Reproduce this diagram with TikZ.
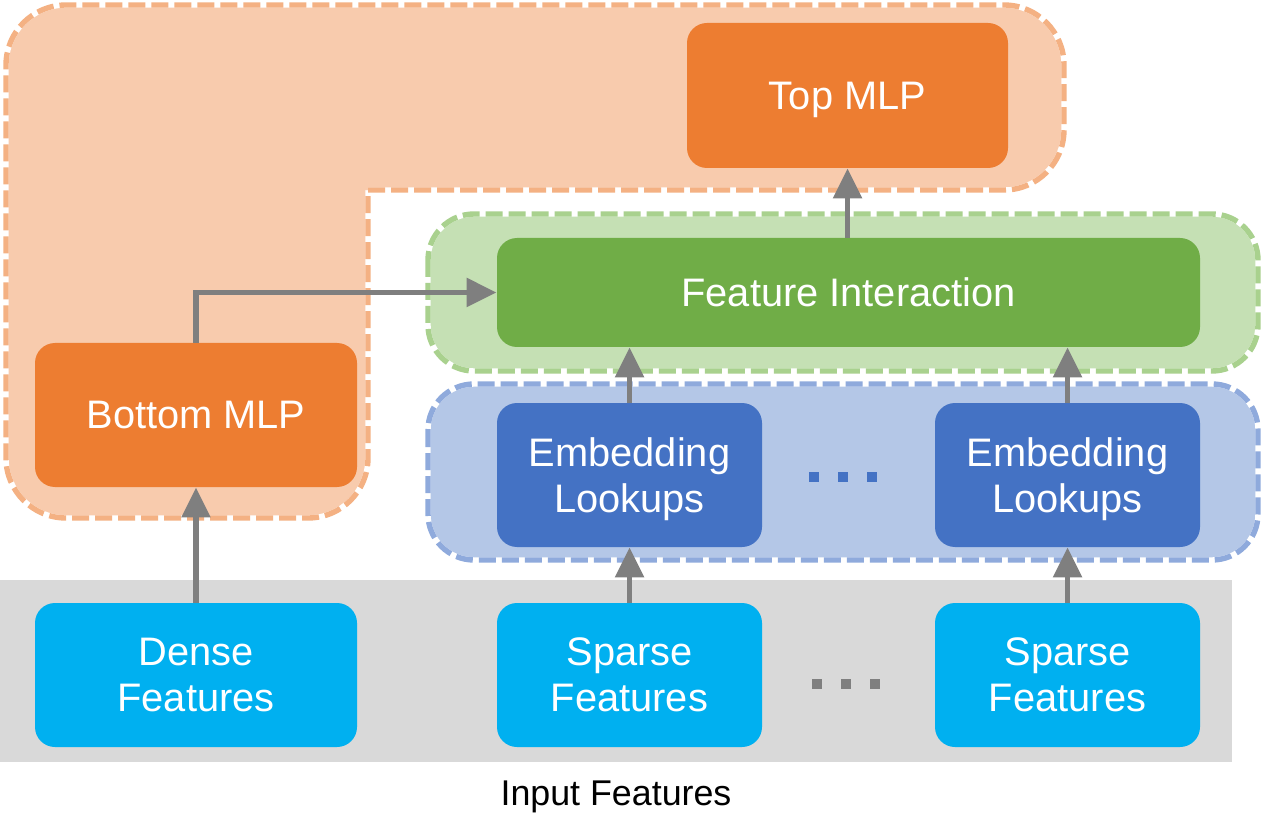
\documentclass[tikz,border=0pt]{standalone}
\usepackage{fontspec}
\setmainfont{Liberation Sans}
\usetikzlibrary{arrows.meta, positioning, calc}
\definecolor{mlporange}{RGB}{237, 125, 49}
\definecolor{orangefill}{RGB}{248, 203, 173}
\definecolor{orangeedge}{RGB}{244, 177, 131}
\definecolor{interactgreen}{RGB}{112, 173, 71}
\definecolor{greenfill}{RGB}{197, 224, 180}
\definecolor{greenedge}{RGB}{169, 209, 142}
\definecolor{lookupblue}{RGB}{68, 114, 196}
\definecolor{bluefill}{RGB}{180, 199, 231}
\definecolor{blueedge}{RGB}{143, 170, 220}
\definecolor{featurecyan}{RGB}{0, 176, 240}
\definecolor{inputgray}{RGB}{217, 217, 217}
\definecolor{arrowgray}{RGB}{127, 127, 127}
\begin{document}
\begin{tikzpicture}[
        x=0.5pt, y=-0.5pt,
        box/.style={rectangle, rounded corners=10pt, text=white, align=center,
            font=\fontsize{19.9}{23}\selectfont, inner sep=0pt, text depth=0pt},
        region/.style={line width=2.7pt, draw=white,
            postaction={draw, #1, dash pattern=on 8.5pt off 3pt}},
        arrow/.style={-{Triangle[length=15pt, width=14pt]}, line width=2.8pt, draw=arrowgray}
    ]
        \useasboundingbox (0,0) rectangle (1264,834);

        % groups behind the blocks
        \fill[inputgray] (0,580) rectangle (1232,762);
        \path[region=orangeedge, fill=orangefill]
            (368,190) [rounded corners=30pt] -- (1064,190) -- (1064,5) -- (6,5)
            -- (6,518) -- (368,518) -- (368,190);
        \path[region=greenedge, fill=greenfill, rounded corners=23pt]
            (428,214) rectangle (1258,371);
        \path[region=blueedge, fill=bluefill, rounded corners=23pt]
            (428,384) rectangle (1258,560);

        % blocks
        \node[box, fill=mlporange, minimum width=160.5pt, minimum height=72.5pt] (top) at (847.5,95.5) {Top MLP};
        \node[box, fill=interactgreen, minimum width=351.5pt, minimum height=54.5pt] (fi) at (848.5,292.5) {Feature Interaction};
        \node[box, fill=mlporange, minimum width=161pt, minimum height=72pt] (bot) at (196,415) {Bottom MLP};
        \node[box, fill=lookupblue, minimum width=132.5pt, minimum height=72pt] (emb1) at (629.5,475) {Embedding\\Lookups};
        \node[box, fill=lookupblue, minimum width=132.5pt, minimum height=72pt] (emb2) at (1067.5,475) {Embedding\\Lookups};
        \node[box, fill=featurecyan, minimum width=161pt, minimum height=72pt] (dense) at (196,675) {Dense\\Features};
        \node[box, fill=featurecyan, minimum width=132.5pt, minimum height=72pt] (sparse1) at (629.5,675) {Sparse\\Features};
        \node[box, fill=featurecyan, minimum width=132.5pt, minimum height=72pt] (sparse2) at (1067.5,675) {Sparse\\Features};
        \node[font=\fontsize{17.9}{21}\selectfont, text depth=0pt] (input) at (616,793) {Input Features};

        % dots between the columns
        \foreach \x in {814,843,872}
            \fill[lookupblue] (\x-5,472) rectangle (\x+5,482);
        \foreach \x in {817,846,875}
            \fill[arrowgray] (\x-5,679) rectangle (\x+5,689);

        \draw[arrow] (dense) -- (bot);
        \draw[arrow] (sparse1) -- (emb1);
        \draw[arrow] (sparse2) -- (emb2);
        \draw[arrow] (emb1) -- (emb1 |- fi.south);
        \draw[arrow] (emb2) -- (emb2 |- fi.south);
        \draw[arrow] (bot.north) |- (fi.west);
        \draw[arrow] (top.south |- fi.north) -- (top.south);
    \end{tikzpicture}
\end{document}
